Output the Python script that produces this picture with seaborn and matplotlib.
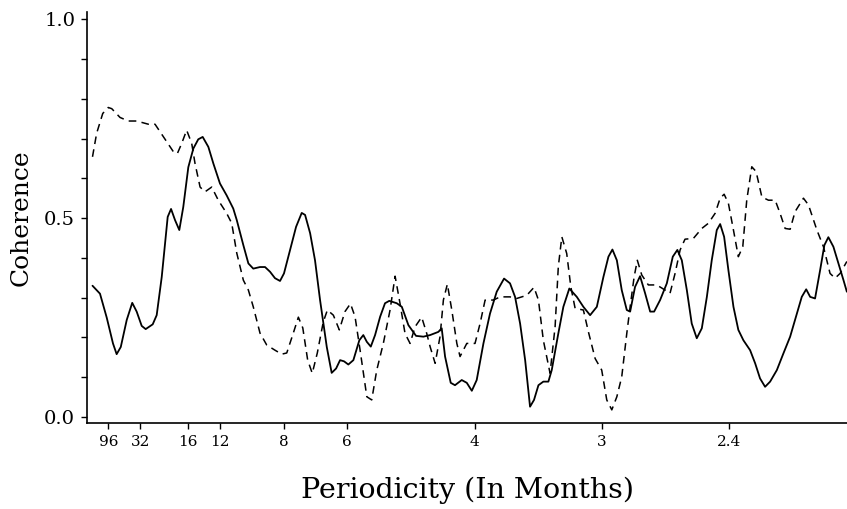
import numpy as np
import pandas as pd
import seaborn as sns
import matplotlib
matplotlib.use('Agg')
import matplotlib.pyplot as plt

# frequency in cycles per month, coherence
solid_freq = [0.000, 0.0049, 0.0093, 0.0134, 0.0158, 0.0185, 0.0224, 0.0260, 0.0289, 0.0322,
              0.0348, 0.0394, 0.0420, 0.0453, 0.0492, 0.0514, 0.0540, 0.0568, 0.0594, 0.0627,
              0.0660, 0.0692, 0.0721, 0.0758, 0.0791, 0.0834, 0.0878, 0.0921, 0.0944, 0.0987,
              0.1020, 0.1052, 0.1096, 0.1129, 0.1162, 0.1194, 0.1227, 0.1253, 0.1293, 0.1332,
              0.1369, 0.1391, 0.1424, 0.1456, 0.1489, 0.1533, 0.1565, 0.1594, 0.1620, 0.1646,
              0.1674, 0.1707, 0.1746, 0.1772, 0.1795, 0.1821, 0.1849, 0.1882, 0.1914, 0.1942,
              0.1991, 0.2024, 0.2067, 0.2117, 0.2165, 0.2209, 0.2263, 0.2285, 0.2307, 0.2344,
              0.2372, 0.2416, 0.2449, 0.2482, 0.2514, 0.2558, 0.2601, 0.2645, 0.2693, 0.2732,
              0.2765, 0.2798, 0.2831, 0.2863, 0.2889, 0.2918, 0.2950, 0.2983, 0.3005, 0.3048,
              0.3081, 0.3120, 0.3169, 0.3212, 0.3256, 0.3300, 0.3343, 0.3376, 0.3402, 0.3431,
              0.3463, 0.3496, 0.3518, 0.3550, 0.3583, 0.3616, 0.3649, 0.3675, 0.3714, 0.3758,
              0.3797, 0.3827, 0.3856, 0.3889, 0.3921, 0.3954, 0.3987, 0.4020, 0.4052, 0.4085,
              0.4107, 0.4133, 0.4161, 0.4194, 0.4226, 0.4259, 0.4303, 0.4336, 0.4368, 0.4401,
              0.4434, 0.4478, 0.4521, 0.4565, 0.4609, 0.4641, 0.4670, 0.4696, 0.4728, 0.4761,
              0.4789, 0.4815, 0.4848, 0.4881, 0.4914, 0.4936]
solid_coh = [0.330, 0.310, 0.250, 0.185, 0.158, 0.176, 0.244, 0.287, 0.265, 0.229,
             0.221, 0.233, 0.256, 0.352, 0.503, 0.523, 0.495, 0.470, 0.528, 0.628,
             0.675, 0.698, 0.704, 0.679, 0.637, 0.587, 0.557, 0.524, 0.495, 0.432,
             0.386, 0.373, 0.377, 0.377, 0.365, 0.349, 0.342, 0.361, 0.420, 0.478,
             0.513, 0.508, 0.462, 0.394, 0.294, 0.176, 0.111, 0.122, 0.143, 0.140,
             0.132, 0.143, 0.193, 0.206, 0.189, 0.177, 0.206, 0.252, 0.286, 0.292,
             0.286, 0.277, 0.231, 0.204, 0.202, 0.206, 0.214, 0.223, 0.152, 0.086,
             0.080, 0.093, 0.086, 0.066, 0.093, 0.185, 0.260, 0.315, 0.348, 0.336,
             0.302, 0.235, 0.143, 0.026, 0.043, 0.080, 0.089, 0.089, 0.118, 0.210,
             0.277, 0.323, 0.302, 0.277, 0.256, 0.277, 0.352, 0.403, 0.421, 0.394,
             0.319, 0.269, 0.265, 0.327, 0.354, 0.311, 0.265, 0.265, 0.294, 0.336,
             0.403, 0.420, 0.394, 0.319, 0.235, 0.198, 0.223, 0.302, 0.394, 0.470,
             0.485, 0.453, 0.369, 0.277, 0.219, 0.193, 0.168, 0.135, 0.097, 0.076,
             0.089, 0.118, 0.160, 0.202, 0.260, 0.302, 0.321, 0.302, 0.298, 0.369,
             0.432, 0.452, 0.428, 0.386, 0.344, 0.315]

dashed_freq = [0.000, 0.0027, 0.0067, 0.0103, 0.0126, 0.0180, 0.0234, 0.0289, 0.0365, 0.0409,
               0.0442, 0.0486, 0.0529, 0.0555, 0.0584, 0.0616, 0.0649, 0.0671, 0.0704, 0.0736,
               0.0780, 0.0823, 0.0878, 0.0911, 0.0944, 0.0987, 0.1020, 0.1052, 0.1096, 0.1140,
               0.1194, 0.1238, 0.1271, 0.1314, 0.1347, 0.1376, 0.1408, 0.1438, 0.1471, 0.1510,
               0.1537, 0.1576, 0.1615, 0.1652, 0.1688, 0.1718, 0.1751, 0.1795, 0.1827, 0.1860,
               0.1903, 0.1947, 0.1980, 0.2012, 0.2045, 0.2078, 0.2111, 0.2154, 0.2187, 0.2209,
               0.2242, 0.2274, 0.2296, 0.2322, 0.2351, 0.2384, 0.2405, 0.2449, 0.2503, 0.2536,
               0.2569, 0.2623, 0.2667, 0.2732, 0.2776, 0.2842, 0.2889, 0.2918, 0.2950, 0.2994,
               0.3027, 0.3048, 0.3071, 0.3103, 0.3130, 0.3158, 0.3212, 0.3245, 0.3289, 0.3332,
               0.3365, 0.3398, 0.3431, 0.3463, 0.3496, 0.3518, 0.3544, 0.3565, 0.3594, 0.3637,
               0.3692, 0.3747, 0.3779, 0.3812, 0.3845, 0.3877, 0.3932, 0.3987, 0.4030, 0.4074,
               0.4107, 0.4133, 0.4161, 0.4194, 0.4226, 0.4255, 0.4281, 0.4314, 0.4342, 0.4380,
               0.4423, 0.4467, 0.4499, 0.4532, 0.4565, 0.4597, 0.4652, 0.4685, 0.4740, 0.4783,
               0.4826, 0.4859, 0.4892, 0.4936]
dashed_coh = [0.654, 0.713, 0.763, 0.778, 0.775, 0.753, 0.744, 0.744, 0.736, 0.736,
              0.717, 0.692, 0.667, 0.662, 0.688, 0.721, 0.688, 0.637, 0.578, 0.566,
              0.578, 0.545, 0.512, 0.487, 0.412, 0.344, 0.319, 0.277, 0.211, 0.181,
              0.168, 0.158, 0.161, 0.211, 0.251, 0.224, 0.143, 0.110, 0.161, 0.239,
              0.269, 0.256, 0.219, 0.265, 0.285, 0.252, 0.168, 0.051, 0.043, 0.118,
              0.185, 0.269, 0.354, 0.286, 0.210, 0.185, 0.227, 0.251, 0.210, 0.177,
              0.135, 0.202, 0.294, 0.334, 0.269, 0.185, 0.152, 0.185, 0.185, 0.235,
              0.294, 0.294, 0.302, 0.302, 0.298, 0.306, 0.326, 0.294, 0.193, 0.110,
              0.227, 0.378, 0.453, 0.411, 0.327, 0.273, 0.269, 0.214, 0.147, 0.118,
              0.043, 0.018, 0.051, 0.101, 0.210, 0.277, 0.352, 0.394, 0.357, 0.332,
              0.332, 0.319, 0.311, 0.361, 0.420, 0.447, 0.449, 0.474, 0.487, 0.512,
              0.550, 0.560, 0.537, 0.470, 0.403, 0.428, 0.545, 0.629, 0.617, 0.553,
              0.545, 0.545, 0.512, 0.474, 0.472, 0.516, 0.550, 0.533, 0.470, 0.428,
              0.361, 0.349, 0.361, 0.391]

periods = [96, 32, 16, 12, 8, 6, 4, 3, 2.4]
period_labels = ['96', '32', '16', '12', '8', '6', '4', '3', '2.4']

sns.set_style('ticks')
plt.rcParams['font.family'] = ['DejaVu Serif']
plt.rcParams['text.color'] = 'black'
plt.rcParams['axes.labelcolor'] = 'black'
plt.rcParams['xtick.color'] = 'black'
plt.rcParams['ytick.color'] = 'black'

fig = plt.figure(figsize=(8.47, 5.09), dpi=100)
ax = fig.add_axes([87 / 847, 86 / 509, 760 / 847, 411 / 509])

sns.lineplot(x=solid_freq, y=solid_coh, ax=ax, color='black', lw=1.3, sort=False)
sns.lineplot(x=dashed_freq, y=dashed_coh, ax=ax, color='black', lw=1.1, sort=False,
             linestyle=(0, (5, 3.5)))

ax.set_xlim(-0.0036, 0.4937)
ax.set_ylim(-0.015, 1.018)
sns.despine(ax=ax)
for s in ['left', 'bottom']:
    ax.spines[s].set_linewidth(1.2)
    ax.spines[s].set_color('black')

ax.set_xticks([1 / p for p in periods])
ax.set_xticklabels(period_labels, fontsize=11)
ax.set_yticks([0.0, 0.5, 1.0])
ax.set_yticklabels(['0.0', '0.5', '1.0'], fontsize=14)
ax.set_yticks(np.arange(0, 1.01, 0.1), minor=True)
ax.tick_params(axis='both', which='both', direction='out', length=4.5, width=1, color='black')
ax.tick_params(axis='y', pad=4)
ax.tick_params(axis='x', pad=4)

ax.set_xlabel('Periodicity (In Months)', fontsize=20.5, labelpad=20)
ax.set_ylabel('Coherence', fontsize=18, labelpad=8)

fig.savefig('out.png', dpi=100)
